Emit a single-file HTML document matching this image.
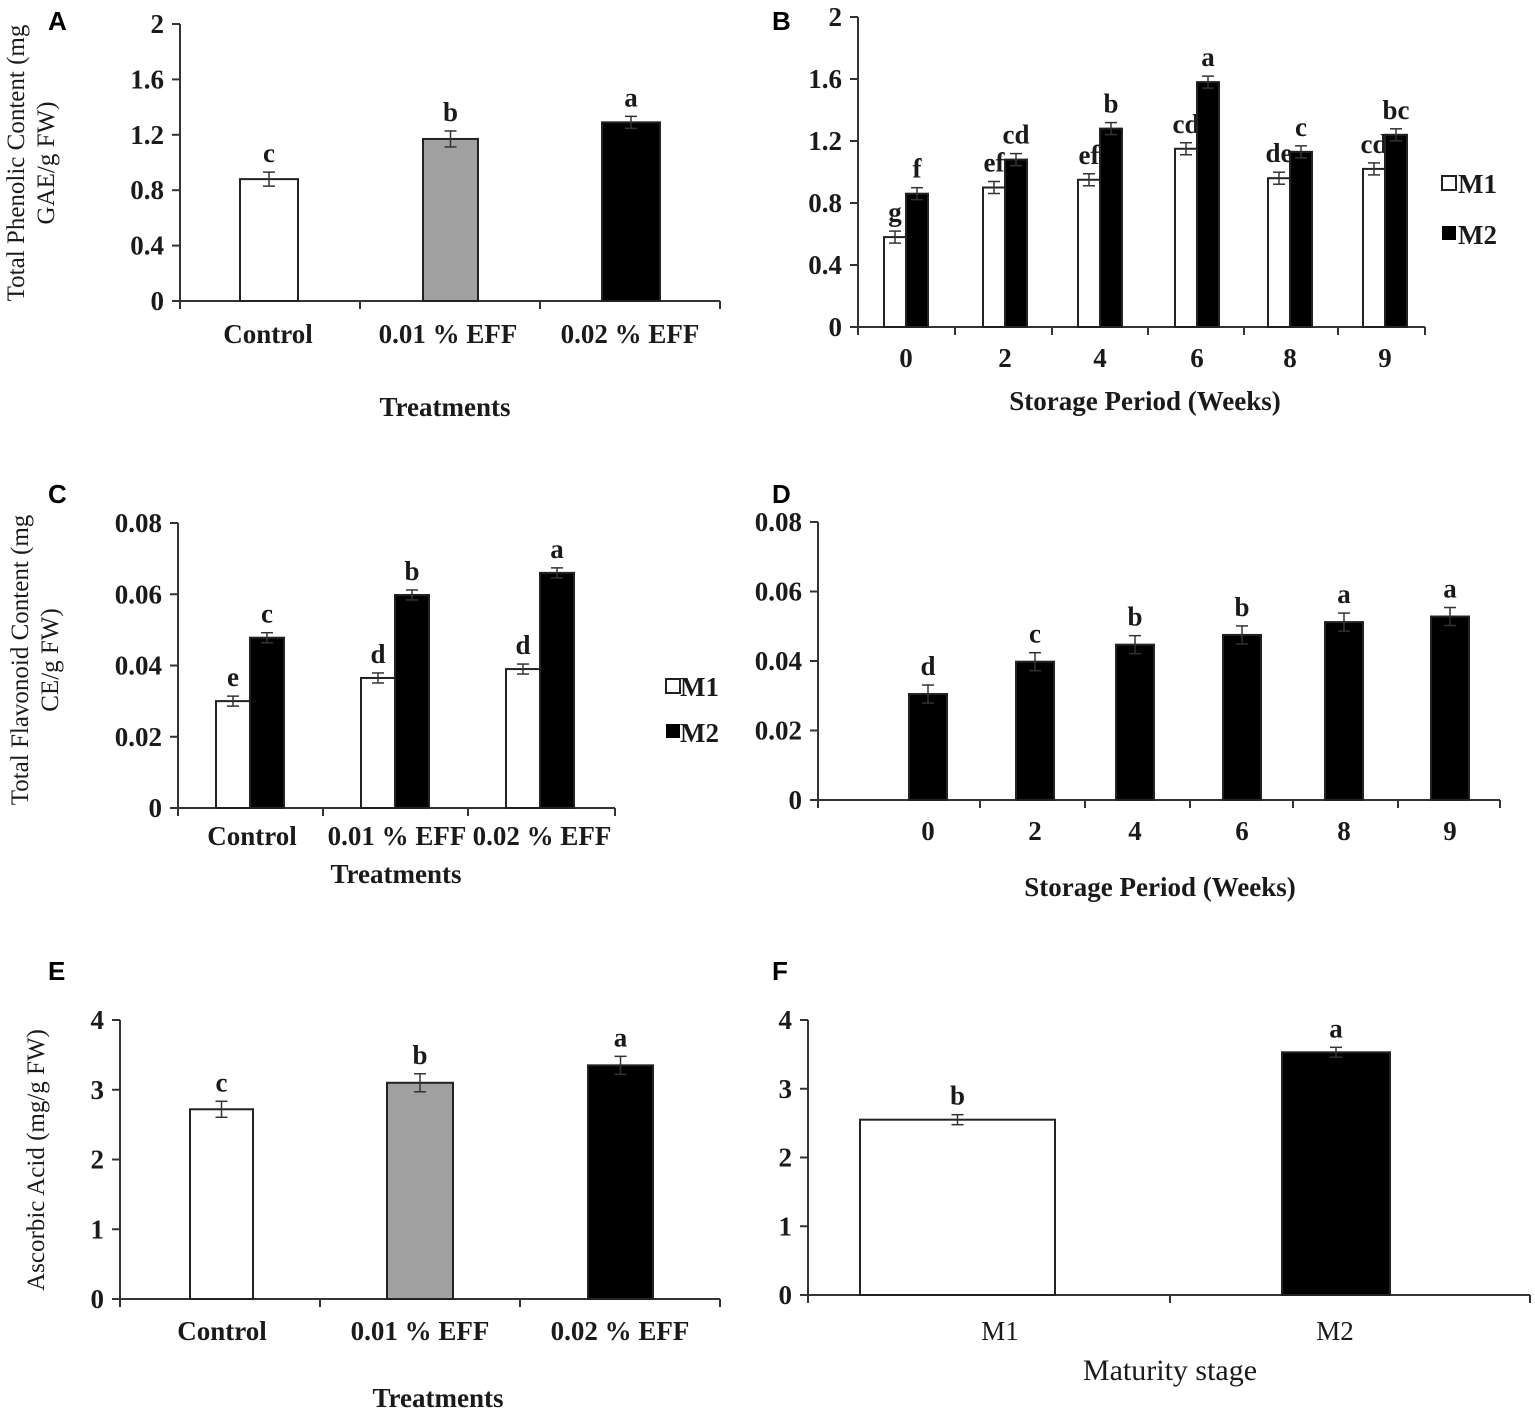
<!DOCTYPE html>
<html><head><meta charset="utf-8"><style>
body{margin:0;background:#fff}
svg{display:block}
text{font-family:"Liberation Serif",serif;fill:#1a1a1a}
.p{font-family:"Liberation Sans",sans-serif;font-weight:bold;font-size:26px;fill:#000}
</style></head><body>
<svg id="s" width="1535" height="1416" xmlns="http://www.w3.org/2000/svg"></svg>
<script>
const S=document.getElementById('s');const NS='http://www.w3.org/2000/svg';
function el(t,a,txt){const e=document.createElementNS(NS,t);for(const k in a)e.setAttribute(k,a[k]);if(txt!==undefined)e.textContent=txt;S.appendChild(e);return e;}
function line(x1,y1,x2,y2,w){el('line',{x1,y1,x2,y2,stroke:'#333','stroke-width':w||2});}
function txt(x,y,s,o){o=o||{};return el('text',Object.assign({x,y,'font-size':o.fs||27,'text-anchor':o.a||'middle','font-weight':o.fw||'bold'},o.extra||{}),s);}
function axis(ax,y0,yTop,ticks,xEnd,xt){
 line(ax,yTop,ax,y0);line(ax,y0,xEnd,y0);
 ticks.forEach((t,i)=>{const y=y0-(y0-yTop)*i/(ticks.length-1);line(ax-8,y,ax,y);txt(ax-16,y+9,t,{a:'end'});});
 (xt||[]).forEach(x=>line(x,y0,x,y0+8));
}
function bar(x1,x2,y0,yv,fill,err,lab){
 el('rect',{x:x1,y:yv,width:x2-x1,height:y0-yv,fill:fill,stroke:'#222','stroke-width':2});
 const c=(x1+x2)/2;line(c,yv-err,c,yv+err,1.5);line(c-6,yv-err,c+6,yv-err,1.5);line(c-6,yv+err,c+6,yv+err,1.5);
 if(lab)txt(c,yv-err-10,lab);
}
// Panel A
el('text',{x:48,y:30,class:'p'},'A');
axis(180,301,24,['0','0.4','0.8','1.2','1.6','2'],720,[180,360,540,720]);
let s=(301-24)/2;
bar(240,298,301,301-0.88*s,'#fff',7,'c');bar(423,478,301,301-1.17*s,'#a0a0a0',8,'b');bar(602,660,301,301-1.29*s,'#000',6,'a');
txt(268,343,'Control');txt(448,343,'0.01 % EFF');txt(630,343,'0.02 % EFF');txt(445,416,'Treatments');
el('text',{x:0,y:0,'font-size':25,'text-anchor':'middle',transform:'translate(24,163) rotate(-90)'},'Total Phenolic Content (mg');
el('text',{x:0,y:0,'font-size':25,'text-anchor':'middle',transform:'translate(54,163) rotate(-90)'},'GAE/g FW)');
// Panel B
el('text',{x:772,y:30,class:'p'},'B');
axis(858,327,17,['0','0.4','0.8','1.2','1.6','2'],1425,[858,955,1052,1148,1244,1338,1425]);
s=(327-17)/2;
const bx=[906,1005,1100,1197,1290,1385],m1=[.58,.9,.95,1.15,.96,1.02],m2=[.86,1.08,1.28,1.58,1.13,1.24];
const l1=['g','ef','ef','cd','de','cd'],l2=['f','cd','b','a','c','bc'];
bx.forEach((c,i)=>{bar(c-22,c,327,327-m1[i]*s,'#fff',6,l1[i]);bar(c,c+22,327,327-m2[i]*s,'#000',6,l2[i]);txt(c,367,['0','2','4','6','8','9'][i]);});
txt(1145,410,'Storage Period (Weeks)');
el('rect',{x:1442,y:176,width:14,height:14,fill:'#fff',stroke:'#222','stroke-width':2});txt(1458,193,'M1',{a:'start'});
el('rect',{x:1442,y:226,width:14,height:14,fill:'#000'});txt(1458,244,'M2',{a:'start'});
// Panel C
el('text',{x:48,y:503,class:'p'},'C');
axis(178,808,523,['0','0.02','0.04','0.06','0.08'],615,[178,323,468,615]);
s=(808-523)/0.08;
const cx=[250,395,540],c1=[.030,.0365,.039],c2=[.0478,.0598,.066];
const cl1=['e','d','d'],cl2=['c','b','a'];
cx.forEach((c,i)=>{bar(c-34,c,808,808-c1[i]*s,'#fff',5,cl1[i]);bar(c,c+34,808,808-c2[i]*s,'#000',5,cl2[i]);});
txt(252,845,'Control');txt(397,845,'0.01 % EFF');txt(542,845,'0.02 % EFF');txt(396,883,'Treatments');
el('text',{x:0,y:0,'font-size':25,'text-anchor':'middle',transform:'translate(28,660) rotate(-90)'},'Total Flavonoid Content (mg');
el('text',{x:0,y:0,'font-size':25,'text-anchor':'middle',transform:'translate(58,660) rotate(-90)'},'CE/g FW)');
el('rect',{x:666,y:679,width:14,height:14,fill:'#fff',stroke:'#222','stroke-width':2});txt(680,696,'M1',{a:'start'});
el('rect',{x:666,y:724,width:14,height:14,fill:'#000'});txt(680,742,'M2',{a:'start'});
// Panel D
el('text',{x:772,y:503,class:'p'},'D');
axis(818,800,522,['0','0.02','0.04','0.06','0.08'],1500,[818,980,1085,1190,1293,1398,1500]);
s=(800-522)/0.08;
const dx=[928,1035,1135,1242,1344,1450],dv=[.0305,.0398,.0447,.0475,.0512,.0528],dl=['d','c','b','b','a','a'];
dx.forEach((c,i)=>{bar(c-19,c+19,800,800-dv[i]*s,'#000',9,dl[i]);txt(c,840,['0','2','4','6','8','9'][i]);});
txt(1160,896,'Storage Period (Weeks)');
// Panel E
el('text',{x:48,y:980,class:'p'},'E');
axis(120,1299,1020,['0','1','2','3','4'],720,[120,320,520,720]);
s=(1299-1020)/4;
bar(190,253,1299,1299-2.72*s,'#fff',8,'c');bar(387,453,1299,1299-3.1*s,'#a0a0a0',9,'b');bar(588,653,1299,1299-3.35*s,'#000',9,'a');
txt(222,1340,'Control');txt(420,1340,'0.01 % EFF');txt(620,1340,'0.02 % EFF');txt(438,1407,'Treatments');
el('text',{x:0,y:0,'font-size':25,'text-anchor':'middle',transform:'translate(44,1160) rotate(-90)'},'Ascorbic Acid (mg/g FW)');
// Panel F
el('text',{x:772,y:980,class:'p'},'F');
axis(808,1295,1020,['0','1','2','3','4'],1530,[808,1170,1530]);
s=(1295-1020)/4;
bar(860,1055,1295,1295-2.55*s,'#fff',5,'b');bar(1282,1390,1295,1295-3.53*s,'#000',5,'a');
txt(1000,1340,'M1',{fw:'normal',fs:27});txt(1335,1340,'M2',{fw:'normal',fs:27});txt(1170,1380,'Maturity stage',{fw:'normal',fs:30});
</script>
</body></html>
